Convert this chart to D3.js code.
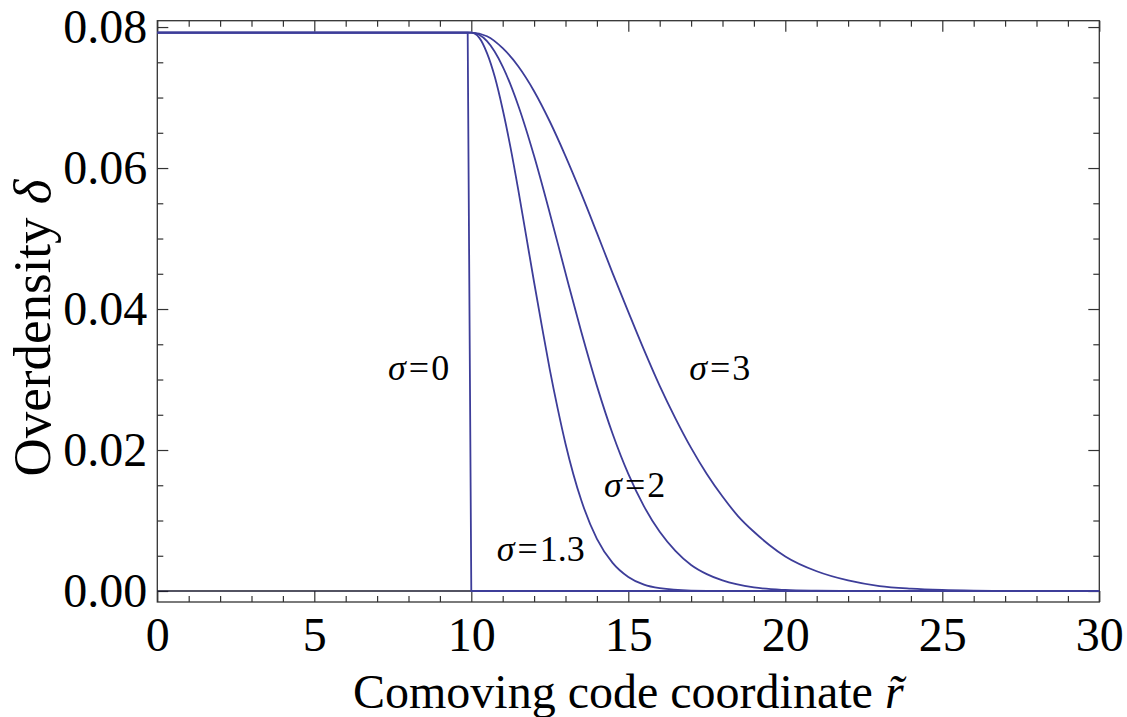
<!DOCTYPE html>
<html>
<head>
<meta charset="utf-8">
<script src="https://cdn.jsdelivr.net/npm/d3@7"></script>
<style>
  html, body { margin: 0; padding: 0; background: #fff; }
  svg { display: block; }
  text { font-family: "Liberation Serif", "Times New Roman", "DejaVu Serif", serif; fill: #000; }
</style>
</head>
<body>
<svg id="chart" width="1127" height="717"></svg>
<script>
// ---- data ----
const xMajorTicks = [0, 5, 10, 15, 20, 25, 30];
const xMinorTicks = [1,2,3,4,6,7,8,9,11,12,13,14,16,17,18,19,21,22,23,24,26,27,28,29];
const yMajorTicks = [0, 0.02, 0.04, 0.06, 0.08];
const yTickLabels = ["0.00", "0.02", "0.04", "0.06", "0.08"];
const yMinorTicks = [0.005,0.01,0.015,0.025,0.03,0.035,0.045,0.05,0.055,0.065,0.07,0.075];

// [r, delta]
const sigma0 = [[0, 0.0792], [9.885, 0.0792], [10.0, 0], [30, 0]];
const sigma13 = [[0, 0.0792], [10, 0.0792], [10.25, 0.0785], [10.5, 0.0763], [10.75, 0.0729],
  [11, 0.0683], [11.25, 0.0629], [11.5, 0.0568], [11.75, 0.0503], [12, 0.0438], [12.25, 0.0375],
  [12.5, 0.0314], [12.75, 0.0259], [13, 0.0209], [13.5, 0.0129], [14, 0.0074], [14.5, 0.0040],
  [15, 0.0020], [15.5, 0.0009], [16, 0.0004], [17, 0.00006], [18, 0], [30, 0]];
const sigma2 = [[0, 0.0792], [10, 0.0792], [10.5, 0.0780], [11, 0.0744], [11.5, 0.0688],
  [12, 0.0617], [12.5, 0.0536], [13, 0.0451], [13.5, 0.0368], [14, 0.0291], [14.5, 0.0223],
  [15, 0.0166], [15.5, 0.0120], [16, 0.0084], [16.5, 0.0057], [17, 0.0037], [17.5, 0.0024],
  [18, 0.0015], [19, 0.0005], [20, 0.00015], [21, 0.00004], [22, 0], [30, 0]];
const sigma3 = [[0, 0.0792], [10, 0.0792], [10.5, 0.0787], [11, 0.0770], [11.5, 0.0744],
  [12, 0.0709], [12.5, 0.0666], [13, 0.0617], [13.5, 0.0564], [14, 0.0508], [14.5, 0.0451],
  [15, 0.0396], [15.5, 0.0342], [16, 0.0291], [16.5, 0.0245], [17, 0.0203], [17.5, 0.0166],
  [18, 0.0134], [18.5, 0.0106], [19, 0.0084], [19.5, 0.0065], [20, 0.0049], [21, 0.0028],
  [22, 0.0015], [23, 0.0007], [24, 0.00034], [25, 0.00015], [26, 0.00006], [27, 0.00002],
  [28, 0], [30, 0]];

const curveLabels = [
  { sym: "σ", num: "0", r: 7.35, d: 0.0299 },
  { sym: "σ", num: "3", r: 16.94, d: 0.0299 },
  { sym: "σ", num: "2", r: 14.23, d: 0.0133 },
  { sym: "σ", num: "1.3", r: 10.81, d: 0.0042 }
];

// ---- layout ----
const svg = d3.select("#chart");
const L = 157.3, R = 1099.3, T = 20.7, B = 602;
const x = d3.scaleLinear().domain([0, 30]).range([L, R]);
const y = d3.scaleLinear().domain([-0.00156, 0.0809]).range([B, T]);
const frameColor = "#333";
const lineColor = "#3d3d99";

// frame
svg.append("rect").attr("x", L).attr("y", T).attr("width", R - L).attr("height", B - T)
  .attr("fill", "none").attr("stroke", frameColor).attr("stroke-width", 1.3);

function styleAxis(g) {
  g.select(".domain").remove();
  g.selectAll(".tick line").attr("stroke", frameColor).attr("stroke-width", 1.2);
}

// bottom axis
const gB = svg.append("g").attr("transform", `translate(0,${B})`)
  .call(d3.axisBottom(x).tickValues(xMajorTicks).tickSizeInner(-11).tickSizeOuter(0).tickPadding(0).tickFormat(d3.format("d")));
styleAxis(gB);
gB.selectAll("text").attr("dy", null).attr("y", 49).style("font-size", "48px").attr("fill", "#000");
const gBm = svg.append("g").attr("transform", `translate(0,${B})`)
  .call(d3.axisBottom(x).tickValues(xMinorTicks).tickSizeInner(-6).tickSizeOuter(0).tickFormat(""));
styleAxis(gBm);

// top axis (ticks only)
const gT = svg.append("g").attr("transform", `translate(0,${T})`)
  .call(d3.axisTop(x).tickValues(xMajorTicks).tickSizeInner(-11).tickSizeOuter(0).tickFormat(""));
styleAxis(gT);
const gTm = svg.append("g").attr("transform", `translate(0,${T})`)
  .call(d3.axisTop(x).tickValues(xMinorTicks).tickSizeInner(-6).tickSizeOuter(0).tickFormat(""));
styleAxis(gTm);

// left axis
const gL = svg.append("g").attr("transform", `translate(${L},0)`)
  .call(d3.axisLeft(y).tickValues(yMajorTicks).tickSizeInner(-11).tickSizeOuter(0).tickPadding(10)
    .tickFormat((d, i) => yTickLabels[i]));
styleAxis(gL);
gL.selectAll("text").style("font-size", "48px").attr("fill", "#000").attr("dy", "0.33em");
const gLm = svg.append("g").attr("transform", `translate(${L},0)`)
  .call(d3.axisLeft(y).tickValues(yMinorTicks).tickSizeInner(-6).tickSizeOuter(0).tickFormat(""));
styleAxis(gLm);

// right axis (ticks only)
const gR = svg.append("g").attr("transform", `translate(${R},0)`)
  .call(d3.axisRight(y).tickValues(yMajorTicks).tickSizeInner(-11).tickSizeOuter(0).tickFormat(""));
styleAxis(gR);
const gRm = svg.append("g").attr("transform", `translate(${R},0)`)
  .call(d3.axisRight(y).tickValues(yMinorTicks).tickSizeInner(-6).tickSizeOuter(0).tickFormat(""));
styleAxis(gRm);

// zero axis line
svg.append("line").attr("x1", x(0)).attr("x2", x(30)).attr("y1", y(0)).attr("y2", y(0))
  .attr("stroke", "#1a1a2e").attr("stroke-width", 1.6);

// curves
svg.append("clipPath").attr("id", "clip").append("rect")
  .attr("x", L).attr("y", T).attr("width", R - L).attr("height", B - T);
const lineSmooth = d3.line().x(d => x(d[0])).y(d => y(d[1])).curve(d3.curveMonotoneX);
const lineStraight = d3.line().x(d => x(d[0])).y(d => y(d[1]));
const gC = svg.append("g").attr("clip-path", "url(#clip)");
[sigma3, sigma2, sigma13].forEach(s => {
  gC.append("path").attr("d", lineSmooth(s)).attr("fill", "none")
    .attr("stroke", lineColor).attr("stroke-width", 1.8);
});
gC.append("path").attr("d", lineStraight(sigma0)).attr("fill", "none")
  .attr("stroke", lineColor).attr("stroke-width", 1.8);

// curve labels
curveLabels.forEach(l => {
  const t = svg.append("text").attr("x", x(l.r)).attr("y", y(l.d)).style("font-size", "36px");
  t.append("tspan").style("font-style", "italic").text(l.sym);
  t.append("tspan").attr("dx", 3).text("=");
  t.append("tspan").attr("dx", 2).text(l.num);
});

// axis titles
const xt = svg.append("text").attr("x", (L + R) / 2).attr("y", 708).attr("text-anchor", "middle")
  .style("font-size", "48px");
xt.append("tspan").text("Comoving code coordinate ");
xt.append("tspan").style("font-style", "italic").text("r\u0303");

const yt = svg.append("text").attr("transform", `translate(50,328) rotate(-90)`)
  .attr("text-anchor", "middle").style("font-size", "53px");
yt.append("tspan").text("Overdensity ");
yt.append("tspan").style("font-style", "italic").text("δ");
</script>
</body>
</html>
